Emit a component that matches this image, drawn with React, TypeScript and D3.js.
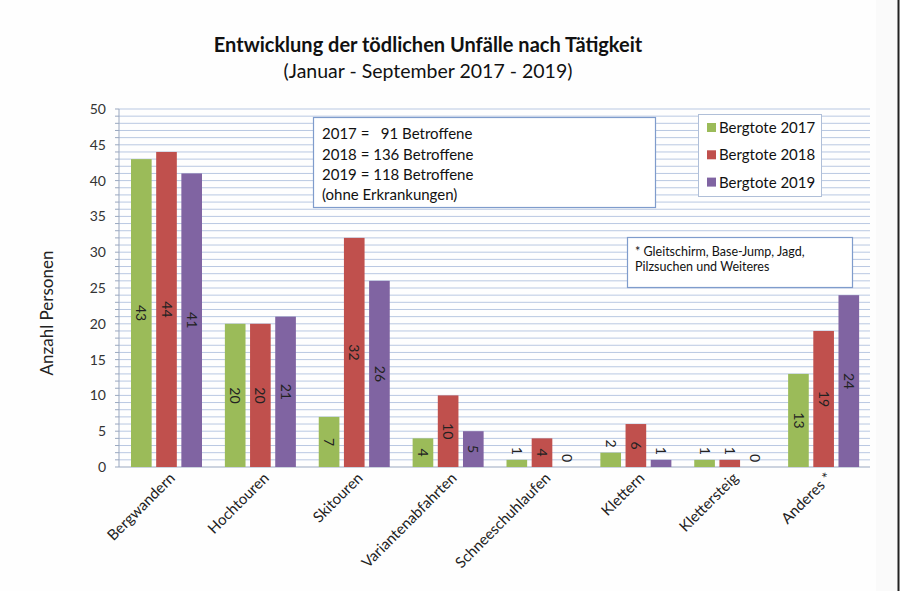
import React from "react";
import * as d3 from "d3";

const categories = ["Bergwandern", "Hochtouren", "Skitouren", "Variantenabfahrten", "Schneeschuhlaufen", "Klettern", "Klettersteig", "Anderes *"];
const seriesNames = ["Bergtote 2017", "Bergtote 2018", "Bergtote 2019"];
const values2017 = [43, 20, 7, 4, 1, 2, 1, 13];
const values2018 = [44, 20, 32, 10, 4, 6, 1, 19];
const values2019 = [41, 21, 26, 5, 0, 1, 0, 24];
const yTicks = [0, 5, 10, 15, 20, 25, 30, 35, 40, 45, 50];
const infoLines = ["2017 =   91 Betroffene", "2018 = 136 Betroffene", "2019 = 118 Betroffene", "(ohne Erkrankungen)"];
const noteLines = ["* Gleitschirm, Base-Jump, Jagd,", "Pilzsuchen und Weiteres"];
const colors = ["#9bbb59", "#c0504d", "#8064a2"];

const FONT = "Lato, 'Open Sans', sans-serif";

export default function App() {
  const W = 900, H = 591;
  const left = 119, right = 870, top = 109, bottom = 467;
  const series = [values2017, values2018, values2019];
  const x = d3.scaleBand<string>().domain(categories).range([left, right]).padding(0);
  const inner = d3.scaleBand<number>().domain([0, 1, 2]).range([12, 83]).paddingInner(0.18);
  const y = d3.scaleLinear().domain([0, 50]).range([bottom, top]);
  const grid = d3.range(0, 51, 1);

  return (
    <svg width={W} height={H} style={{ position: "absolute", left: 0, top: 0, background: "#ffffff" }} fontFamily={FONT}>
      <rect x={0} y={0} width={W} height={H} fill="#fefefe" />
      <rect x={876} y={0} width={22} height={H} fill="#fafafa" />
      <line x1={898.5} x2={898.5} y1={0} y2={H} stroke="#222" strokeWidth={2} />
      {/* Title */}
      <text x={428} y={52} textAnchor="middle" fontSize={20} fontWeight="bold" fill="#111">Entwicklung der tödlichen Unfälle nach Tätigkeit</text>
      <text x={428} y={78} textAnchor="middle" fontSize={19.5} fill="#111">(Januar - September 2017 - 2019)</text>

      {/* gridlines */}
      {grid.map((g) => (
        <line key={"g" + g} x1={left} x2={right} y1={y(g)} y2={y(g)} stroke={g === 0 ? "#9aa8c0" : "#b9c8e2"} strokeWidth={1} />
      ))}
      {/* axis */}
      <line x1={left} x2={left} y1={top} y2={bottom} stroke="#9aa8c0" />
      {grid.map((g) => (
        <line key={"t" + g} x1={left - 4} x2={left} y1={y(g)} y2={y(g)} stroke="#9aa8c0" />
      ))}
      {yTicks.map((t) => (
        <text key={"yl" + t} x={106} y={y(t)} dy="0.35em" textAnchor="end" fontSize={14} fill="#333">{t}</text>
      ))}
      <text transform={`translate(53,${(top + bottom) / 2 + 25}) rotate(-90)`} textAnchor="middle" fontSize={17} fill="#222">Anzahl Personen</text>

      {/* bars */}
      {categories.map((c, ci) => (
        <g key={c}>
          {series.map((vals, si) => {
            const bx = (x(c) as number) + (inner(si) as number);
            const bw = inner.bandwidth();
            const v = vals[ci];
            const yt = y(v);
            const inside = v >= 3;
            const ly = inside ? (yt + bottom) / 2 : yt - 9;
            return (
              <g key={si}>
                {v > 0 && <rect x={bx} y={yt} width={bw} height={bottom - yt} fill={colors[si]} />}
                <text transform={`translate(${bx + bw / 2},${ly}) rotate(90)`} textAnchor="middle" dy="0.35em" fontSize={14} fill="#222">{v}</text>
              </g>
            );
          })}
          <text transform={`translate(${(x(c) as number) + x.bandwidth() / 2 + 10},${bottom + 12}) rotate(-45)`} textAnchor="end" fontSize={15} fill="#222">{c}</text>
        </g>
      ))}

      {/* info box */}
      <rect x={313.5} y={117.5} width={342} height={90} fill="#fff" stroke="#7f9ccc" strokeWidth={1.2} />
      {infoLines.map((l, i) => (
        <text key={l} x={322} y={134 + i * 20.3} dy="0.35em" fontSize={15} fill="#111" style={{ whiteSpace: "pre" }}>{l}</text>
      ))}

      {/* legend */}
      <rect x={698.5} y={114.5} width={123} height={82} fill="#fff" stroke="#b0bfd8" strokeWidth={1} />
      {seriesNames.map((s, i) => (
        <g key={s}>
          <rect x={707} y={123 + i * 27.3} width={9} height={9} fill={colors[i]} />
          <text x={719} y={127.7 + i * 27.3} dy="0.35em" fontSize={15} fill="#111">{s}</text>
        </g>
      ))}

      {/* note box */}
      <rect x={627.5} y={237.5} width={225} height={50} fill="#fff" stroke="#7f9ccc" strokeWidth={1.2} />
      {noteLines.map((l, i) => (
        <text key={l} x={635} y={252 + i * 15} dy="0.35em" fontSize={12.5} fill="#111">{l}</text>
      ))}
    </svg>
  );
}
